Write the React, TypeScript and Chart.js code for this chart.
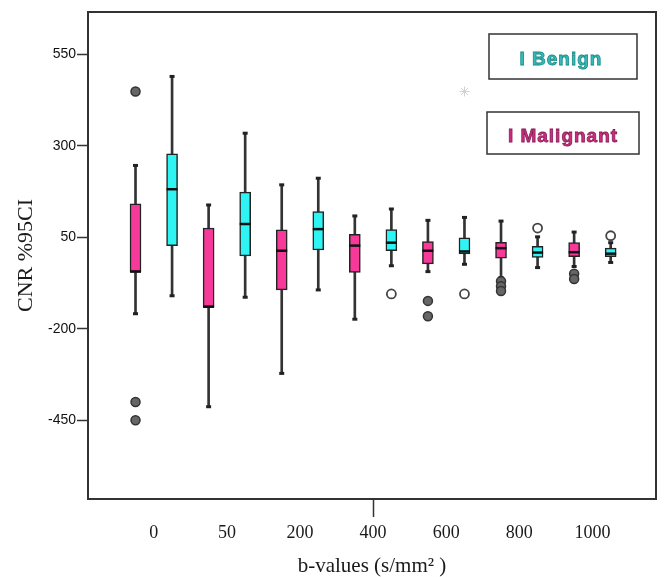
import React, { useEffect, useRef } from 'react';
import { Chart, registerables } from 'chart.js';

Chart.register(...registerables);

// ---- data ----
const bValues = ['0', '50', '200', '400', '600', '800', '1000'];
const yTicks = [550, 300, 50, -200, -450];
const seriesNames = ['Benign', 'Malignant'];

const malignantMin = [-159, -413, -322, -174, -44, -60, -30];
const malignantQ1 = [-44, -140, -94, -46, -23, -7, -3];
const malignantMedian = [-44, -140, 13, 27, 13, 20, 9];
const malignantQ3 = [141, 75, 70, 58, 38, 36, 35];
const malignantMax = [246, 138, 193, 108, 96, 94, 64];
const malignantOutliers = [[448, -400, -450], [], [], [], [-124, -166], [-70, -84, -97], [-50, -64]];

const benignMin = [-110, -114, -94, -28, -24, -33, -19];
const benignQ1 = [27, -1, 15, 13, 4, -5, -3];
const benignMedian = [181, 86, 72, 35, 11, 8, 5];
const benignQ3 = [278, 173, 120, 71, 48, 25, 20];
const benignMax = [489, 334, 211, 127, 104, 51, 35];
const benignOutliers = [[], [], [], [-105], [-105], [75], [54]];
const benignExtremes = [[], [], [], [], [448], [], []];

const MAGENTA = '#f7399a';
const CYAN = '#2ef4f4';

const framePlugin = {
  id: 'frame',
  afterDraw(chart: any) {
    const { ctx, chartArea: a } = chart;
    ctx.save();
    ctx.strokeStyle = '#333';
    ctx.lineWidth = 2;
    ctx.strokeRect(a.left, a.top, a.right - a.left, a.bottom - a.top);
    ctx.restore();
  },
};

const legendPlugin = {
  id: 'boxLegend',
  afterDraw(chart: any) {
    const { ctx } = chart;
    const items = [
      { text: 'I ' + seriesNames[0], color: '#36bab6', stroke: '#1a8c88', rect: [489, 34, 148, 45], tx: 561, ty: 60 },
      { text: 'I ' + seriesNames[1], color: '#c8307f', stroke: '#8a1a55', rect: [487, 112, 152, 42], tx: 563, ty: 137 },
    ];
    ctx.save();
    items.forEach((it) => {
      ctx.strokeStyle = '#333';
      ctx.lineWidth = 1.5;
      ctx.strokeRect(it.rect[0], it.rect[1], it.rect[2], it.rect[3]);
      ctx.font = 'bold 19px "Liberation Sans", Arial, sans-serif';
      try { (ctx as any).letterSpacing = '1px'; } catch (e) {}
      ctx.fillStyle = it.color;
      ctx.textAlign = 'center';
      ctx.textBaseline = 'middle';
      ctx.fillText(it.text, it.tx, it.ty);
      ctx.strokeStyle = it.stroke;
      ctx.lineWidth = 0.8;
      ctx.strokeText(it.text, it.tx, it.ty);
    });
    ctx.restore();
  },
};

export default function App() {
  const ref = useRef<HTMLCanvasElement>(null);

  useEffect(() => {
    if (!ref.current) return;
    const off = 0.25;
    const mX = (g: number) => g - off;
    const bX = (g: number) => g + off;

    const range = (xf: (g: number) => number, lo: number[], hi: number[]) =>
      lo.map((v, g) => ({ x: xf(g), y: [v, hi[g]] }));
    const pts = (xf: (g: number) => number, vals: number[]) => vals.map((v, g) => ({ x: xf(g), y: v }));
    const ptsList = (xf: (g: number) => number, lists: number[][]) =>
      lists.flatMap((l, g) => l.map((v) => ({ x: xf(g), y: v })));

    const whiskerStyle = {
      type: 'bar' as const,
      backgroundColor: '#333',
      borderWidth: 0,
      barThickness: 2,
      grouped: false,
      order: 10,
    };
    const boxStyle = {
      type: 'bar' as const,
      borderColor: '#222',
      borderWidth: 1.5,
      borderSkipped: false,
      barThickness: 11,
      grouped: false,
      order: 5,
    };

    const chart = new Chart(ref.current, {
      type: 'bar',
      data: {
        datasets: [
          { ...whiskerStyle, label: 'mw', data: range(mX, malignantMin, malignantMax) },
          { ...whiskerStyle, label: 'bw', data: range(bX, benignMin, benignMax) },
          { ...boxStyle, label: seriesNames[1], backgroundColor: MAGENTA, data: range(mX, malignantQ1, malignantQ3) },
          { ...boxStyle, label: seriesNames[0], backgroundColor: CYAN, data: range(bX, benignQ1, benignQ3) },
          {
            type: 'scatter', label: 'caps',
            data: [...pts(mX, malignantMin), ...pts(mX, malignantMax), ...pts(bX, benignMin), ...pts(bX, benignMax)],
            pointStyle: 'line', pointRadius: 2.5, borderColor: '#222', pointBorderWidth: 3, order: 2,
          },
          {
            type: 'scatter', label: 'medians',
            data: [...pts(mX, malignantMedian), ...pts(bX, benignMedian)],
            pointStyle: 'line', pointRadius: 5.5, borderColor: '#111', pointBorderWidth: 2.5, order: 1,
          },
          {
            type: 'scatter', label: 'mout',
            data: ptsList(mX, malignantOutliers),
            pointStyle: 'circle', pointRadius: 4.5, backgroundColor: '#666', borderColor: '#333', pointBorderWidth: 1.5, order: 0,
          },
          {
            type: 'scatter', label: 'bout',
            data: ptsList(bX, benignOutliers),
            pointStyle: 'circle', pointRadius: 4.5, backgroundColor: '#fff', borderColor: '#444', pointBorderWidth: 1.8, order: 0,
          },
          {
            type: 'scatter', label: 'bext',
            data: ptsList(bX, benignExtremes),
            pointStyle: 'star', pointRadius: 5, backgroundColor: '#ddd', borderColor: '#d0d0d0', pointBorderWidth: 1, order: 0,
          },
        ] as any,
      },
      options: {
        animation: false,
        responsive: false,
        events: [],
        layout: { padding: { left: 0, top: 12, right: 6, bottom: 0 } },
        plugins: { legend: { display: false }, tooltip: { enabled: false } },
        scales: {
          x: {
            type: 'linear',
            min: -0.9,
            max: 6.87,
            offset: false,
            afterBuildTicks: (s: any) => { s.ticks = bValues.map((_, i) => ({ value: i })); },
            afterFit: (s: any) => { s.height = 78; },
            grid: {
              offset: false,
              drawOnChartArea: false,
              drawTicks: true,
              tickLength: 18,
              tickWidth: 1.5,
              tickColor: (c: any) => (c.index === 3 ? '#333' : 'rgba(0,0,0,0)'),
            },
            border: { display: false },
            ticks: {
              autoSkip: false,
              maxRotation: 0,
              padding: 5,
              color: '#1a1a1a',
              font: { family: '"Liberation Serif", "Times New Roman", serif', size: 18 },
              callback: (_v: any, i: number) => bValues[i],
            },
            title: {
              display: true,
              text: 'b-values (s/mm² )',
              color: '#1a1a1a',
              font: { family: '"Liberation Serif", "Times New Roman", serif', size: 21, lineHeight: 1 },
              padding: { top: 0, bottom: 0 },
            },
          },
          y: {
            type: 'linear',
            min: -665,
            max: 665,
            afterBuildTicks: (s: any) => { s.ticks = yTicks.map((v) => ({ value: v })); },
            afterFit: (s: any) => { s.width = 88; },
            grid: {
              drawOnChartArea: false,
              drawTicks: true,
              tickLength: 11,
              tickWidth: 1.5,
              tickColor: '#333',
            },
            border: { display: false },
            ticks: {
              padding: 1,
              color: '#111',
              font: { family: '"Liberation Sans", Arial, sans-serif', size: 14 },
              callback: (v: any) => String(v),
            },
            title: {
              display: true,
              text: 'CNR %95CI',
              color: '#1a1a1a',
              font: { family: '"Liberation Serif", "Times New Roman", serif', size: 22, lineHeight: 1.2 },
              padding: { top: 13, bottom: 0 },
            },
          },
        },
      } as any,
      plugins: [framePlugin, legendPlugin],
    });
    return () => chart.destroy();
  }, []);

  return (
    <div style={{ position: 'absolute', left: 0, top: 0, width: 664, height: 577, background: '#fff' }}>
      <canvas ref={ref} width={664} height={577} style={{ display: 'block' }} />
    </div>
  );
}
